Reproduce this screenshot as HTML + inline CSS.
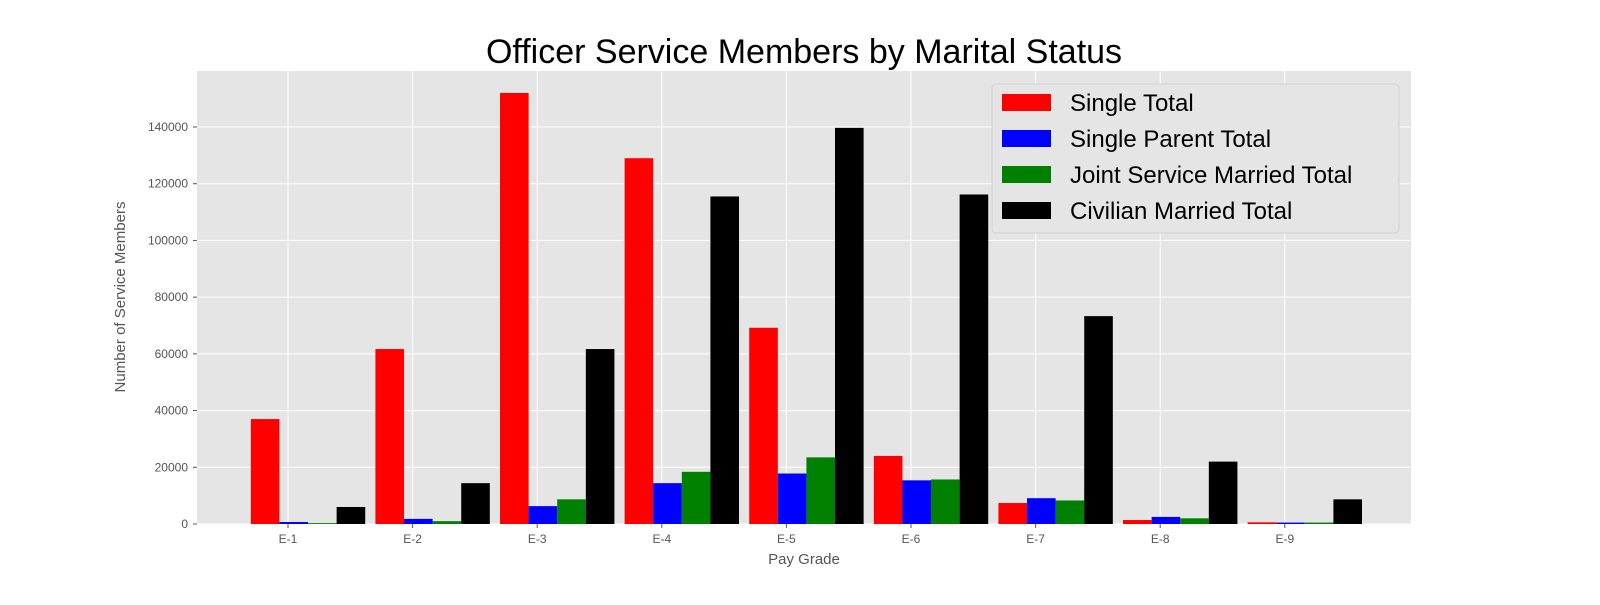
<!DOCTYPE html>
<html><head><meta charset="utf-8"><style>
body{margin:0;background:#fff;font-family:"Liberation Sans","DejaVu Sans",sans-serif;}
svg text{font-family:"Liberation Sans","DejaVu Sans",sans-serif;}
</style></head><body>
<svg id="chart" width="1600" height="600" xmlns="http://www.w3.org/2000/svg">
<rect x="0" y="0" width="1600" height="600" fill="#fff"/>
<text x="804" y="63" font-size="34" text-anchor="middle" fill="#000">Officer Service Members by Marital Status</text>
<rect x="197" y="71" width="1214" height="453" fill="#e5e5e5"/>
<g id="grid"></g><g id="bars"></g><g id="axes"></g><g id="legend"></g>
<text x="804" y="564" font-size="15" text-anchor="middle" fill="#555">Pay Grade</text>
<text transform="translate(125,297) rotate(-90)" font-size="15" text-anchor="middle" fill="#555">Number of Service Members</text>
</svg>
<script>
const categories=["E-1","E-2","E-3","E-4","E-5","E-6","E-7","E-8","E-9"];
const seriesNames=["Single Total","Single Parent Total","Joint Service Married Total","Civilian Married Total"];
const singleTotal=[37000,61700,152000,129000,69200,24000,7400,1400,600];
const singleParent=[700,1800,6300,14400,17800,15400,9100,2500,500];
const jointMarried=[300,1000,8700,18400,23500,15700,8300,2000,500];
const civilianMarried=[6000,14400,61700,115500,139700,116200,73300,22000,8700];
const yTicks=[0,20000,40000,60000,80000,100000,120000,140000];
const series=[singleTotal,singleParent,jointMarried,civilianMarried];
const colors=["#ff0000","#0000ff","#008000","#000000"];
const NS="http://www.w3.org/2000/svg";
const y0=524,yPerUnit=(524-127)/140000;
function yS(v){return y0-v*yPerUnit;}
function xS(i){return 288+i*124.6;}
const bw=28.6;
function mk(t,a,p){const e=document.createElementNS(NS,t);for(const k in a)e.setAttribute(k,a[k]);p.appendChild(e);return e;}
const grid=document.getElementById('grid'),bars=document.getElementById('bars'),axes=document.getElementById('axes'),leg=document.getElementById('legend');
yTicks.forEach(v=>{
 const l=mk('line',{x1:197,x2:1411,y1:yS(v),y2:yS(v),stroke:'#fff','stroke-width':1},grid);
 
 
 const t=mk('text',{x:188,y:yS(v)+4,'font-size':12,'text-anchor':'end',fill:'#555'},axes);
 t.textContent=v;
 
 
 mk('line',{x1:193,x2:197,y1:yS(v),y2:yS(v),stroke:'#555'},axes);
});
categories.forEach((c,i)=>{
 const l=mk('line',{x1:xS(i),x2:xS(i),y1:71,y2:524,stroke:'#fff','stroke-width':1},grid);
 
 
 mk('line',{x1:xS(i),x2:xS(i),y1:524,y2:528,stroke:'#555'},axes);
 const t=mk('text',{x:xS(i),y:543,'font-size':12,'text-anchor':'middle',fill:'#555'},axes);
 t.textContent=c;
 
 
 series.forEach((s,k)=>{
  const r=mk('rect',{x:xS(i)+(k-1.3)*bw,y:yS(s[i]),width:bw,height:y0-yS(s[i]),fill:colors[k]},bars);
  
  
 });
});
const lb=mk('rect',{x:992,y:84,width:407,height:149,rx:4,fill:'#e5e5e5',stroke:'#ccc','stroke-opacity':0.8},leg);


seriesNames.forEach((n,k)=>{
 const yy=102+k*36;
 const sw=mk('rect',{x:1002,y:yy-8,width:49,height:17,fill:colors[k]},leg);
 
 
 const t=mk('text',{x:1070,y:yy+9,'font-size':24,fill:'#000'},leg);
 t.textContent=n;
 
 
});
</script>
</body></html>
